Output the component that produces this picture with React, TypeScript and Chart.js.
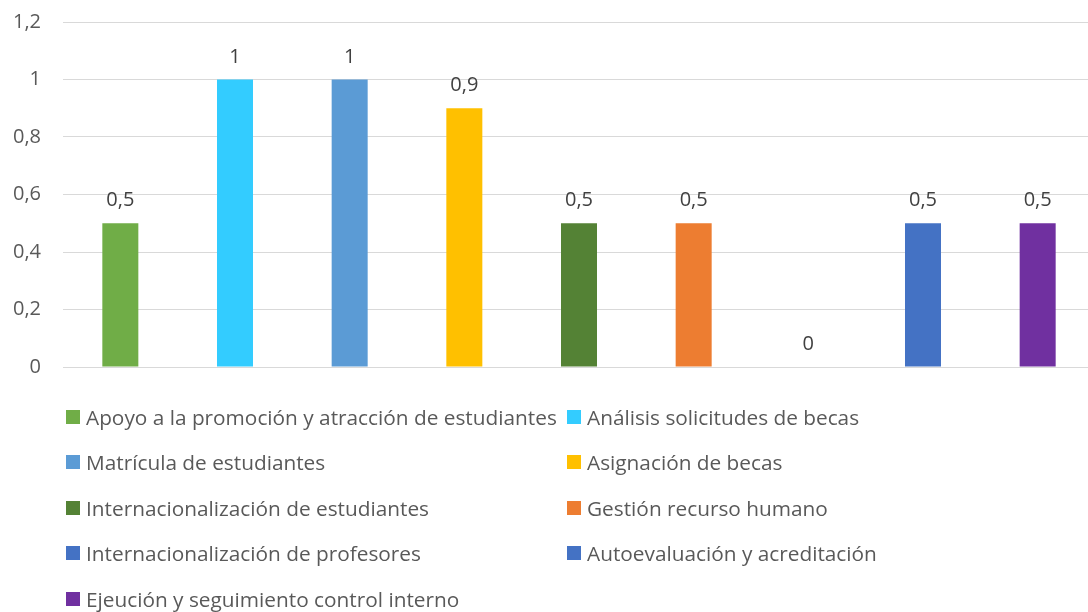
import React, { useEffect, useRef } from "react";
import { Chart, registerables } from "chart.js";

Chart.register(...registerables);

const categories = [
  "Apoyo a la promoción y atracción de estudiantes",
  "Análisis solicitudes de becas",
  "Matrícula de estudiantes",
  "Asignación de becas",
  "Internacionalización de estudiantes",
  "Gestión recurso humano",
  "Internacionalización de profesores",
  "Autoevaluación y acreditación",
  "Ejeución y seguimiento control interno",
];

const values = [0.5, 1, 1, 0.9, 0.5, 0.5, 0, 0.5, 0.5];

const colors = [
  "#70AD47",
  "#33CCFF",
  "#5B9BD5",
  "#FFC000",
  "#548235",
  "#ED7D31",
  "#4472C4",
  "#4472C4",
  "#7030A0",
];

const yTicks = [0, 0.2, 0.4, 0.6, 0.8, 1, 1.2];

const FONT = "'Open Sans', 'Noto Sans', sans-serif";

const fmt = (v: number) => String(Math.round(v * 10) / 10).replace(".", ",");

const dataLabels = {
  id: "dataLabels",
  afterDatasetsDraw(chart: any) {
    const ctx = chart.ctx;
    const meta = chart.getDatasetMeta(0);
    ctx.save();
    ctx.font = `20px ${FONT}`;
    ctx.fillStyle = "#404040";
    ctx.textAlign = "center";
    ctx.textBaseline = "alphabetic";
    meta.data.forEach((bar: any, i: number) => {
      ctx.fillText(fmt(values[i]), bar.x, bar.y - 17);
    });
    ctx.restore();
  },
};

export default function App() {
  const ref = useRef<HTMLCanvasElement>(null);

  useEffect(() => {
    if (!ref.current) return;
    const chart = new Chart(ref.current, {
      type: "bar",
      data: {
        labels: categories,
        datasets: [
          {
            data: values,
            backgroundColor: colors,
            borderWidth: 0,
            categoryPercentage: 1,
            barPercentage: 0.314,
          },
        ],
      },
      options: {
        responsive: false,
        animation: false,
        layout: { padding: { top: 22, right: 1, bottom: 34, left: 0 } },
        plugins: {
          legend: { display: false },
          tooltip: { enabled: false },
        },
        scales: {
          x: { display: false },
          y: {
            min: 0,
            max: 1.2,
            afterBuildTicks(scale: any) {
              scale.ticks = yTicks.map((v) => ({ value: v }));
            },
            afterFit(scale: any) {
              scale.width = 63;
              scale.paddingTop = 0;
              scale.paddingBottom = 0;
            },
            border: { display: false },
            grid: { color: "#D9D9D9", lineWidth: 1, drawTicks: false },
            ticks: {
              padding: 22,
              color: "#595959",
              font: { family: FONT, size: 20 },
              callback: (v: any) => fmt(Number(v)),
            },
          },
        },
      },
      plugins: [dataLabels],
    });
    return () => chart.destroy();
  }, []);

  return (
    <div
      style={{
        position: "fixed",
        left: 0,
        top: 0,
        width: 1088,
        height: 612,
        overflow: "hidden",
        background: "#fff",
      }}
    >
      <canvas ref={ref} width={1096} height={401} style={{ display: "block" }} />
      <div
        style={{
          position: "absolute",
          left: 66,
          top: 394,
          display: "grid",
          gridTemplateColumns: "501px auto",
          gridAutoRows: "45.5px",
          fontFamily: FONT,
          fontSize: 20.8,
          color: "#595959",
        }}
      >
        {categories.map((c, i) => (
          <div key={c} style={{ display: "flex", alignItems: "center", whiteSpace: "nowrap" }}>
            <span
              style={{
                display: "inline-block",
                width: 14,
                height: 14,
                background: colors[i],
                marginRight: 6,
                flex: "none",
              }}
            />
            <span>{c}</span>
          </div>
        ))}
      </div>
    </div>
  );
}
